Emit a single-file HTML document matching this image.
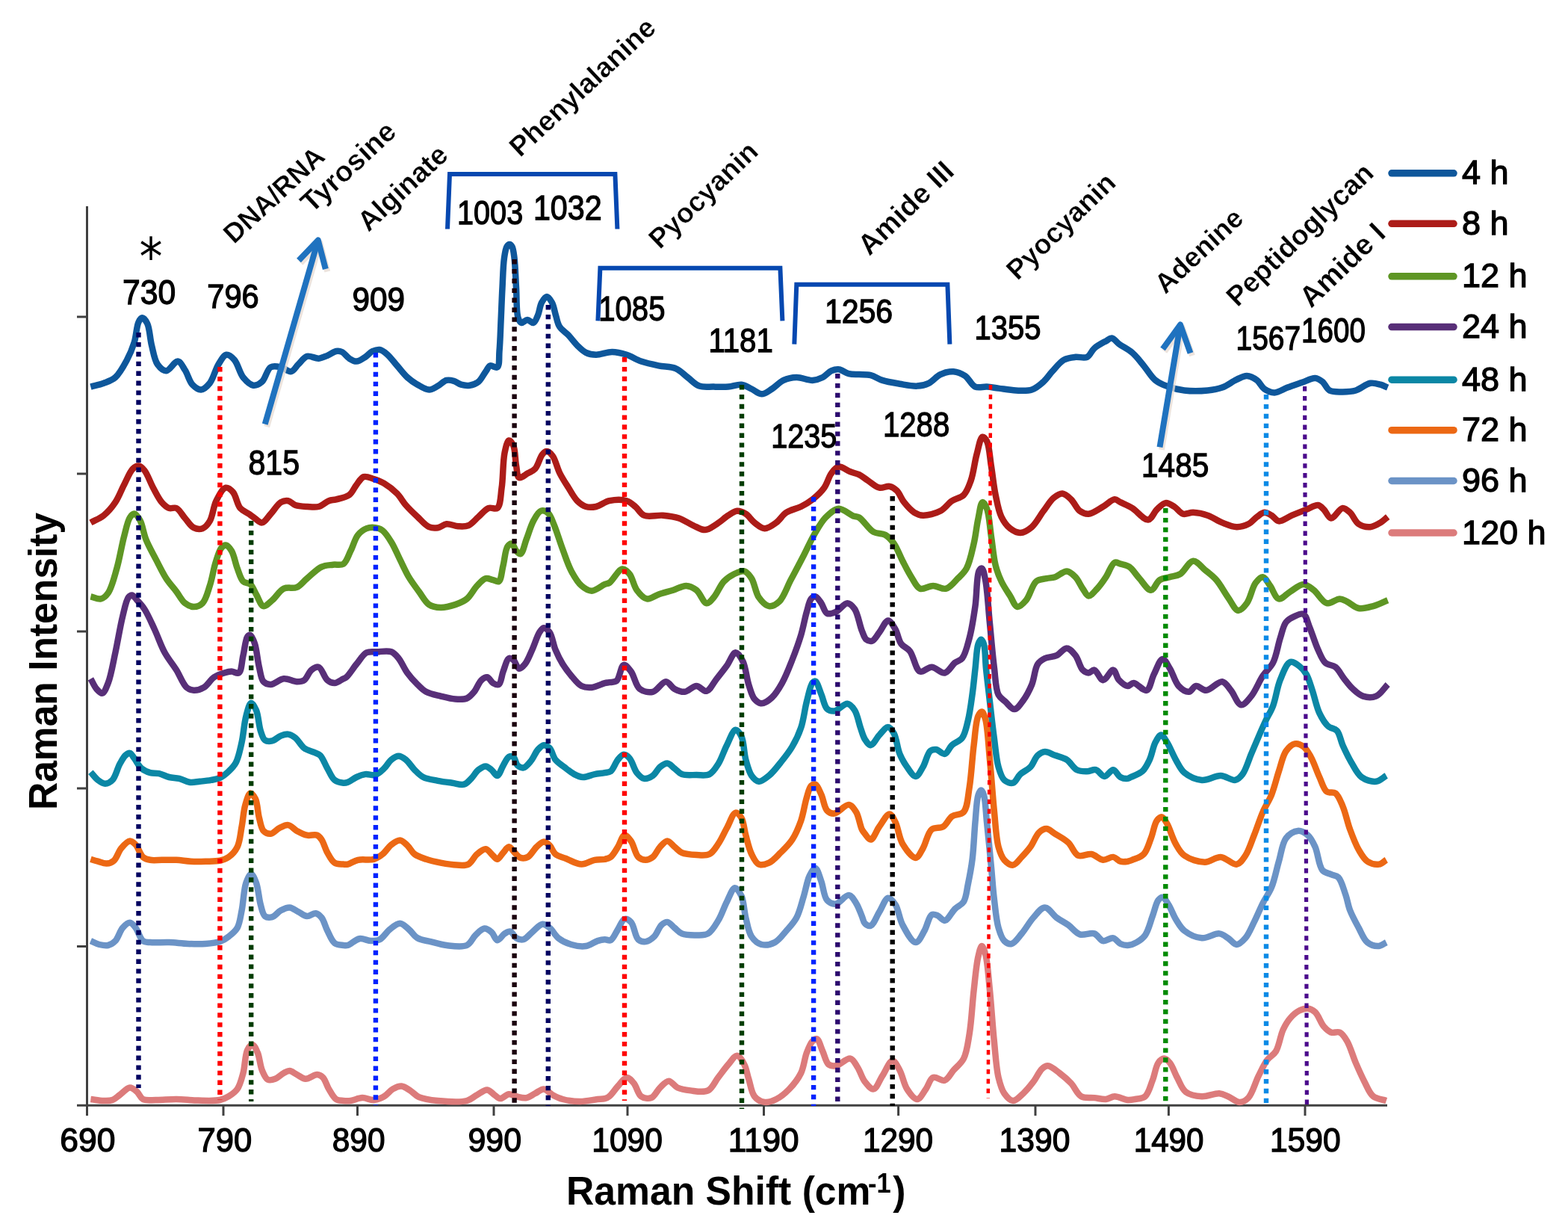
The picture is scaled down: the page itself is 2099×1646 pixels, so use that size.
<!DOCTYPE html><html><head><meta charset="utf-8"><style>html,body{margin:0;padding:0;background:#fff;}svg{display:block;}text{font-family:"Liberation Sans",sans-serif;}</style></head><body>
<svg width="2099" height="1646" viewBox="0 0 2099 1646">
<rect width="2099" height="1646" fill="#fff"/>
<g stroke="#404040" stroke-width="3" fill="none">
<path d="M116.5,276 V1479.2"/>
<path d="M103,1479.2 H1857"/>
<path d="M103,424 H116.5"/>
<path d="M103,634 H116.5"/>
<path d="M103,845 H116.5"/>
<path d="M103,1055 H116.5"/>
<path d="M103,1266.5 H116.5"/>
<path d="M116.5,1479.2 V1493"/>
<path d="M299,1479.2 V1493"/>
<path d="M478.5,1479.2 V1493"/>
<path d="M661,1479.2 V1493"/>
<path d="M840,1479.2 V1493"/>
<path d="M1022.5,1479.2 V1493"/>
<path d="M1202.6,1479.2 V1493"/>
<path d="M1386,1479.2 V1493"/>
<path d="M1564.4,1479.2 V1493"/>
<path d="M1747,1479.2 V1493"/>
</g>
<g fill="none" stroke-width="8.5" stroke-linejoin="round" stroke-linecap="butt">
<path stroke="#0e579b" d="M121.4,517.6 C127.2,516 133.3,514.8 138.9,512.7 C144.3,510.6 149.7,509.1 154.4,505 C160.4,499.7 165.7,489.6 170,481.6 C174.1,474 177.1,466.5 179.7,458.3 C182.4,449.7 182.8,436.5 185.5,431 C186.9,428.1 188.6,425.3 190.4,425.3 C192.5,425.3 195.4,429.3 197.2,433 C200.3,439.3 200.7,452.7 203,462 C205.2,470.8 206.7,481.6 210.8,487.5 C213.9,491.8 218.4,496.3 222.5,496.2 C227.3,496.1 233.6,483.2 238,483.6 C241.8,484 244.7,490.7 247.7,495.3 C251.3,500.8 253.3,510.2 257.5,514.7 C260.8,518.2 265.3,521.7 269.1,521.5 C273.1,521.3 277.3,517 280.8,512.7 C285.6,506.8 288.2,494.3 292.5,487.5 C295.8,482.3 299.3,475.4 303.1,474.8 C306.4,474.3 310.6,478 313.8,481.6 C318.4,486.7 320.7,499.1 325.5,505 C329.4,509.8 334.6,515.1 339.1,515.7 C343,516.2 347.3,513.8 350.8,510.8 C355.4,506.8 357.4,494.2 362.4,491.4 C366.3,489.2 371.5,490.5 376,491.4 C380.7,492.3 385.7,498 389.7,497.2 C393.5,496.5 396,490.8 399.4,487.5 C403.1,484 406.5,478.1 411,476.8 C415.5,475.5 421.8,480 426.6,479.7 C430.8,479.4 434.5,477.4 438.3,475.8 C442.3,474.2 446.4,470.6 450,470 C452.8,469.5 455.2,469.8 457.8,471 C461.1,472.5 464.1,477.6 467.5,479.7 C470.6,481.6 473.8,483.7 477.2,483.6 C480.9,483.5 485.3,480.1 488.9,477.8 C492.4,475.6 495.2,471.6 498.6,470 C501.7,468.6 505.2,467.5 508.3,468 C511.7,468.6 514.7,471.1 518,473.9 C522.4,477.6 527.1,484.2 531.6,489.4 C536.2,494.6 540.5,500.6 545.3,505 C549.6,508.9 554.1,512 558.9,514.7 C563.8,517.5 569.6,521.5 574.4,521.5 C578.6,521.5 582.3,518.6 586.1,516.6 C590.1,514.5 593.8,509.9 597.7,508.9 C601,508.1 604.3,508.9 607.5,509.8 C610.8,510.8 613.7,513.7 617.2,514.7 C620.8,515.7 625,516.3 628.8,515.7 C632.8,515.1 637.1,513.5 640.5,510.8 C644.4,507.7 647.3,501.1 650.2,497.2 C652.4,494.2 653.5,490.4 656.1,489.4 C658.7,488.4 663.6,493 665.8,491.4 C669,489.1 667.8,478.3 668.5,470 C669.5,458.8 669.9,443.7 670.5,430 C671.2,415.4 671.7,399.6 672.5,385 C673.2,371.3 673.5,355.1 675,345 C675.9,338.8 676.7,332.9 678.5,330 C679.5,328.4 680.8,327 682,327 C683.2,327 684.6,328.4 685.5,330 C687.2,332.9 687.7,338.8 688.5,345 C689.8,355.1 690.2,371.7 691,385 C691.8,398.3 691,417.3 693.5,425 C694.6,428.5 696,431.4 698,432 C700.1,432.6 703.3,428 706,428 C708.7,428 711.8,432.7 714,432 C716.6,431.3 718.3,425.9 720,422 C722.1,417.2 722.6,409.4 725,405 C726.9,401.6 729.7,397 732,397 C734.3,397 737.1,401.6 739,405 C741.4,409.4 742.3,416.5 744,422 C745.6,427.2 746.2,432.6 749,437 C751.8,441.5 757.1,444.5 761,448.6 C765,452.9 768.6,458.2 772.7,462.2 C776.5,465.9 780.1,469.8 784.4,471.9 C788.5,473.9 792.9,474.7 798,474.8 C804.3,474.9 812.4,470.9 819.4,471 C826.1,471.1 832.5,472.8 838.9,474.8 C845.5,476.9 851.4,481.2 858.3,483.6 C865.6,486.1 873.8,487.8 881.6,489.4 C889.4,491 898.3,490.4 905,493.3 C911.1,495.9 915.3,501.1 920.5,505 C925.7,508.9 930.3,514.5 936.1,516.6 C941.9,518.7 949,517.4 955.5,517.6 C962,517.8 968.7,518.1 975,517.6 C981,517.1 987.1,514.1 992.5,514.7 C997.4,515.3 1001.6,518.4 1006.1,520.5 C1010.7,522.6 1015.2,527.3 1019.7,527.3 C1024.2,527.3 1028.7,523.3 1033.3,520.5 C1038.4,517.3 1043.2,511.5 1048.8,508.9 C1054.2,506.4 1060.2,505.1 1066.3,505 C1073.1,504.9 1081.4,509.2 1087.7,508.9 C1092.8,508.6 1097.1,507.1 1101.3,505 C1105.6,502.9 1109.1,497.9 1113,496.2 C1116.2,494.8 1119.3,493.9 1122.7,494.3 C1126.9,494.7 1131.7,499 1136.3,500.1 C1140.8,501.2 1145.3,500.8 1150,501.1 C1155,501.4 1160.5,500.9 1165.6,502.1 C1170.9,503.4 1175.3,507.1 1181.1,508.9 C1188,511.1 1196.6,512.4 1204.4,513.7 C1212.2,515 1220.8,517 1227.8,516.6 C1233.5,516.3 1238.4,515.1 1243.3,512.8 C1248.8,510.2 1253.2,503.7 1258.9,501.1 C1264.3,498.6 1270.8,496.8 1276.4,497.2 C1281.8,497.6 1287.2,499.9 1291.9,503 C1297,506.4 1300.3,515.3 1305.5,517.6 C1310.1,519.6 1315.9,517.3 1321.1,517.6 C1326.3,517.9 1330.9,518.9 1336.6,519.6 C1343.6,520.5 1352.4,522.2 1360,522.5 C1367.3,522.8 1375,523.6 1381.3,521.5 C1387.2,519.5 1392.3,514.9 1396.9,510.8 C1401.4,506.8 1404.2,501.8 1408.5,497.2 C1413.2,492.1 1418.4,484.8 1424.1,481.6 C1428.9,478.9 1434.5,478.4 1439.7,477.8 C1444.8,477.2 1451,479.8 1455.2,477.8 C1459.4,475.8 1461,469.5 1464.9,466.1 C1469.2,462.3 1476.1,458.8 1480.5,456.4 C1483.5,454.7 1485.7,452.2 1488.3,452.5 C1491.5,452.8 1494.2,457.5 1498,460.3 C1502.9,463.9 1510.2,467.2 1515.6,471.9 C1521.3,476.8 1526,483.3 1531.1,489.4 C1536.4,495.7 1540.8,504.1 1546.7,508.9 C1552,513.1 1557.9,515.4 1564.2,517.6 C1570.8,520 1577.7,521.6 1585.5,522.5 C1594.8,523.6 1607.5,523.4 1616.6,522.5 C1623.9,521.8 1629.8,520.9 1636.1,518.6 C1642.8,516.2 1649.5,510.6 1655.5,507.9 C1660.3,505.7 1664.6,502.9 1669.1,503 C1673.7,503.1 1678.8,506 1682.7,508.9 C1686.6,511.8 1688.5,517.7 1692.5,520.5 C1696.4,523.2 1701.3,525.5 1706.1,525.4 C1711.6,525.3 1717.6,520.8 1723.6,518.6 C1729.9,516.3 1736.7,514 1743,511.8 C1749,509.8 1755.6,505.7 1760.5,506 C1764.3,506.3 1767.2,508.4 1770.2,510.8 C1773.8,513.6 1775.6,520.2 1779.9,522.5 C1784.5,525 1791.6,524.4 1797.4,524.4 C1803.2,524.4 1809.1,524.2 1814.9,522.5 C1821.4,520.6 1828.3,513.8 1834.4,512.8 C1839.2,512 1843.9,513.6 1848,514.7 C1851.6,515.7 1854.5,517.3 1857.7,518.6"/>
<path stroke="#ac1c18" d="M121.4,699.4 C127.2,696.2 133.6,694 138.9,689.7 C144.7,685.1 150,678.8 154.4,672.2 C159.1,665.2 162.1,656.4 166.1,648.8 C169.9,641.5 173.6,631.4 177.8,627.4 C180.3,625 183,623.4 185.5,623.6 C188.2,623.8 190.8,626.4 193.3,629.4 C197.4,634.3 201,645.3 205,652.7 C208.8,659.6 212.4,667.4 216.6,672.2 C219.7,675.8 222.9,678.8 226.4,680 C229.5,681.1 233,678.6 236.1,680 C240.3,681.9 243.8,689.1 247.7,693.5 C251.6,697.8 255,704.1 259.4,706.2 C263,708 267.6,708.5 271.1,707.2 C274.8,705.8 278.1,701.9 280.8,697.4 C284.7,690.9 285.5,678 289.5,670.2 C292.9,663.4 297.8,653.6 302.2,652.7 C305.4,652.1 309.1,655.4 311.9,658.6 C316,663.2 317.3,675 321.6,680 C324.9,683.8 329.8,685.3 333.3,687.7 C336.2,689.7 338.3,691.6 341.1,693.5 C344.1,695.5 347.6,699.8 350.8,699.4 C354.7,698.9 358.4,691.9 362.4,687.7 C366.8,683 371.4,674.9 376,672.2 C379.2,670.3 382.6,669.7 385.8,670.2 C389.2,670.8 391.7,674.7 395.5,676 C399.9,677.5 405.8,677.7 411,678 C416.2,678.3 421.7,679.3 426.6,678 C431.5,676.7 435.9,671.8 440.2,670.2 C443.6,668.9 446.3,669.3 450,668.3 C455,667 462.9,665.8 467.5,662.4 C471.9,659.2 473.8,653 477.2,648.8 C480.3,644.9 483,639.4 486.9,638.1 C490.8,636.9 496,639.6 500.5,641 C505.1,642.5 509.5,644.1 514.2,646.9 C519.9,650.3 526.6,655.5 531.6,660.5 C536.2,665.2 538.9,671 543.3,676 C548,681.4 553.6,686.7 558.9,691.6 C564,696.4 569.2,703 574.4,705.2 C578.3,706.9 582.3,706.8 586.1,706.2 C590.1,705.6 593.5,701.8 597.7,701.3 C602.4,700.8 608.3,703.9 613.3,704.2 C618,704.5 622.6,705 626.9,703.3 C631.8,701.3 636,695.5 640.5,691.6 C645,687.7 649.4,681.6 654.1,679.9 C657.9,678.5 662.9,682.2 665.8,679.9 C670.2,676.3 670.1,663 671.6,652.7 C673.6,639.3 673.1,617.6 675.5,606.1 C677,599 678.9,590 681.3,589.5 C683,589.2 685.7,593 687.2,596.3 C689.9,602.1 689.6,615.8 691.1,623.6 C692.2,629.5 692,637.8 694.9,639.1 C697.5,640.3 702.9,635.3 706.6,633.3 C710,631.4 713.4,630.5 716.3,627.4 C720.3,623.1 722.7,611.8 726.1,608 C728,605.8 729.8,604 731.9,604.1 C734.3,604.2 737.3,606.9 739.7,610 C743.5,614.9 745.7,626 749.4,633.3 C752.9,640.2 757,646.4 761,652.7 C764.8,658.7 768.3,665.8 772.7,670.2 C776.3,673.8 780.1,676.7 784.4,678 C788.6,679.3 793.3,679 798,678 C803.6,676.8 809.2,671.6 815.6,670.2 C822.7,668.7 832.7,668.3 838.9,670.2 C843.7,671.7 846.8,674.9 850.5,678 C854.6,681.3 857,687.5 862.2,689.7 C868.6,692.4 879.4,689 887.5,689.7 C895,690.4 902.1,691.2 908.9,693.5 C915.7,695.8 922.1,700.6 928.3,703.3 C933.7,705.7 938.8,709.4 943.9,709.1 C949.1,708.8 954.4,704.4 959.4,701.3 C964.7,698 970.1,692.8 975,689.7 C979,687.2 982.7,684.1 986.6,683.8 C990.4,683.5 994.6,685.4 998.3,687.7 C1002.5,690.3 1005.7,696.1 1010,699.4 C1014.2,702.6 1018.9,707.1 1023.6,707.2 C1028.6,707.3 1034.4,702.8 1039.1,699.4 C1044.1,695.8 1047.3,689.3 1052.7,685.8 C1058.3,682.1 1066.2,681 1072.2,678 C1077.8,675.2 1082.7,672.2 1087.7,668.3 C1093.1,664 1099.1,658.6 1103.3,652.7 C1107.5,646.9 1109.2,638.3 1113,633.3 C1115.9,629.5 1118.8,625.1 1122.7,624.5 C1127.1,623.8 1133.4,629.4 1138.3,631.3 C1142.4,632.9 1146.2,633.4 1150,635.2 C1154,637.2 1157.5,640.3 1161.7,643 C1166.5,646.1 1172,651.6 1177.2,652.7 C1181.7,653.7 1186.8,650 1190.8,650.8 C1194.5,651.5 1197.6,653.7 1200.5,656.6 C1204.2,660.3 1206.5,667.4 1210.3,672.2 C1214.2,677.1 1219.2,682.9 1223.9,685.8 C1227.7,688.1 1230.9,689.5 1235.5,689.7 C1241.9,689.9 1252.2,687.3 1258.9,683.8 C1265,680.6 1269,673.8 1274.4,670.2 C1279.4,666.8 1285.9,666.5 1290,662.4 C1294.6,657.8 1297,650.6 1299.7,643 C1303.2,633.2 1304.6,618.4 1307.5,608 C1309.9,599.4 1312.1,585.4 1315.2,584.7 C1317,584.3 1319.5,587.4 1321.1,590.5 C1324.4,596.8 1325,612.1 1326.9,623.6 C1328.9,636 1330.2,650.4 1332.7,662.4 C1334.9,672.9 1336.6,683.7 1340.5,691.6 C1343.6,698 1347.6,703.6 1352.2,707.2 C1356.2,710.3 1361.2,713.1 1365.8,713 C1370.8,712.8 1376.6,709.2 1381.3,705.2 C1387.2,700.2 1391.8,690.5 1396.9,683.8 C1401.5,677.6 1405.7,670.3 1410.5,666.3 C1414.2,663.3 1418.4,660.2 1422.2,660.5 C1426.2,660.8 1430.2,664.9 1433.8,668.3 C1438.1,672.3 1441.1,680.6 1445.5,683.8 C1449,686.3 1452.8,688 1457.1,687.7 C1462.8,687.3 1470.5,681.4 1476.6,678 C1482.1,674.9 1487.7,668.5 1492.1,668.3 C1495.1,668.1 1496.9,670.7 1500,672.2 C1504.3,674.3 1510.1,676.6 1515.6,679.9 C1522.3,684 1531.1,696.2 1536.9,695.5 C1541.7,695 1544.5,685.8 1548.6,681.9 C1552.3,678.4 1556.3,673.6 1560.3,673.1 C1564,672.6 1568.2,675.7 1571.9,678 C1576,680.5 1579.3,686.5 1583.6,687.7 C1587.7,688.9 1592.3,685.7 1597.2,685.8 C1603.1,686 1610.3,687.5 1616.6,689.7 C1623.2,692 1629.5,696.8 1636.1,699.4 C1642.5,701.9 1649.4,705.1 1655.5,705.2 C1661,705.3 1666.5,703.6 1671.1,701.3 C1675.5,699 1678.9,694.3 1682.7,691.6 C1686,689.3 1689.2,686.1 1692.5,685.8 C1695.7,685.6 1699.1,687.9 1702.2,689.7 C1705.6,691.7 1708,696.9 1711.9,697.4 C1716.7,698 1723.4,692.2 1729.4,689.7 C1735.7,687.1 1742.7,684.3 1748.8,681.9 C1754.3,679.8 1760.2,675.4 1764.4,676 C1767.6,676.5 1769.6,679.4 1772.2,681.9 C1775.4,685 1778.1,693.2 1781.9,693.5 C1786.3,693.8 1792.7,680.3 1797.4,679.9 C1800.9,679.6 1804.1,683 1807.2,685.8 C1811.3,689.5 1814,698.1 1818.8,701.3 C1823.2,704.2 1829.4,705.6 1834.4,705.2 C1839.2,704.8 1844,701.8 1848,699.4 C1851.7,697.2 1854.5,694.2 1857.7,691.6"/>
<path stroke="#5e9624" d="M121.4,798.4 C125.9,799.4 131,802.3 135,801.4 C138.7,800.5 141.8,797.7 144.7,793.6 C149.6,786.7 153,772.3 156.4,760.5 C160.2,747.3 162.8,730.1 166.1,717.8 C168.7,708.2 170.6,697.4 173.9,692.5 C175.6,689.9 177.7,687.5 179.7,687.6 C182.2,687.8 185.2,692.4 187.5,696.4 C190.9,702.4 191.9,713.2 195.3,721.6 C198.9,730.7 204.3,740 208.9,748.9 C213.4,757.5 217.6,766.6 222.5,774.1 C226.8,780.7 231.8,785.9 236.1,791.6 C240.1,796.9 243.3,803.8 247.7,807.2 C251.3,810 255.5,812 259.4,812 C263.3,812 267.9,810.4 271.1,807.2 C275.7,802.7 278,792.3 280.8,783.9 C284,774.4 285.7,761.9 288.6,752.8 C291,745.5 293.2,737.1 296.3,733.3 C298.1,731.1 300.2,729.2 302.2,729.4 C304.7,729.7 307.8,733.6 310,737.2 C313.4,742.6 314.9,753.4 317.7,760.5 C320.1,766.8 321.9,774.5 325.5,778 C328.2,780.6 332.5,779.5 335.2,781.9 C338.5,784.8 340.2,790.8 343,795.5 C346,800.5 348.8,810.3 352.7,811.1 C356.1,811.8 360.4,806.6 364.4,803.3 C369.4,799.2 374,790.5 379.9,787.7 C385.2,785.2 392.2,788 397.4,785.8 C402.6,783.5 406,778.2 411,774.1 C416.9,769.2 424,761.6 430.5,758.6 C435.7,756.2 441,756.4 446,755.7 C450.7,755.1 456,757.1 459.7,754.7 C464.2,751.8 466.3,743.4 469.4,737.2 C472.8,730.5 475,721 479.2,715.8 C482.5,711.7 486.7,708.7 490.8,707.1 C494.5,705.7 498.8,705.6 502.5,706.1 C506,706.6 509.1,707.6 512.2,710 C516.4,713.2 520.3,719.6 523.9,725.5 C528.1,732.3 531.6,741.1 535.5,748.9 C539.4,756.7 542.9,764.9 547.2,772.2 C551.3,779.1 556.2,785.4 560.8,791.6 C565.3,797.6 569,805.6 574.4,809.1 C579,812.1 584.5,812.9 590,813 C596.1,813.1 603.4,811.1 609.4,809.1 C615,807.2 620.4,805.2 625,801.4 C630.2,797.1 634,788.7 638.6,783.9 C642.4,779.9 646.2,775.1 650.2,774.1 C653.4,773.3 656.9,775.4 660,776.1 C662.7,776.7 665.7,779.2 667.7,778 C671.1,776 671.7,764 673.6,756.6 C675.6,748.6 676.3,735.9 679.4,731.4 C681,729.1 683.4,727.1 685.2,727.5 C687.4,728 688.9,734.9 691.1,737.2 C692.9,739 695.1,741.6 696.9,741.1 C700,740.2 702,728.5 704.7,721.6 C707.8,713.7 710.6,703.2 714.4,696.4 C717.3,691.2 720.4,684.9 724.1,683.7 C727,682.8 731.1,684.4 733.8,686.7 C737.3,689.7 738.9,696 741.6,702.2 C745.4,711.1 749.3,724.7 753.3,735.3 C757.1,745.4 760.3,755.9 764.9,764.4 C768.9,771.8 773.3,779.4 778.5,783.9 C782.6,787.5 787.3,790.7 792.1,790.7 C797.6,790.7 805.2,783.7 809.6,781.9 C812.1,780.9 813.3,781.4 815.6,780 C820.2,777.1 827.8,762 833,761.5 C836.6,761.1 839.9,764.9 842.8,768.3 C846.8,773.1 848.2,784 852.5,789.7 C856.2,794.7 861.1,800.5 866.1,801.4 C870.9,802.2 876.1,797.4 881.6,795.5 C887.7,793.4 894.8,791.7 901.1,789.7 C907.1,787.8 913.2,783.7 918.6,783.9 C923.5,784.1 928,786.5 932.2,789.7 C937.3,793.6 941.4,806.7 945.8,807.2 C949.1,807.6 952.3,803 955.5,799.4 C960.1,794.3 964,783.4 969.1,778 C973.3,773.6 978,770.6 982.7,768.3 C987.1,766.2 992.4,763.4 996.3,764.4 C1000.2,765.4 1003.2,769.7 1006.1,774.1 C1010.1,780.3 1011.3,793 1015.8,799.4 C1019.5,804.6 1024.6,810.4 1029.4,811.1 C1033.7,811.8 1038.9,809 1043,805.2 C1049.1,799.6 1053.3,786.1 1058.6,776.1 C1064.3,765.4 1070.6,753.5 1076,743 C1080.9,733.5 1084.7,724.4 1089.7,715.8 C1094.5,707.6 1099.2,698.5 1105.2,692.5 C1110.4,687.3 1116.6,681.2 1122.7,680.8 C1128.9,680.4 1137,688.6 1142.1,690.5 C1145.2,691.7 1147.1,690.8 1150,692.5 C1155.4,695.6 1162.7,708.1 1169.4,711.9 C1174.5,714.8 1180.5,713.2 1185,715.8 C1189.6,718.4 1193.2,722.6 1196.7,727.5 C1201.1,733.7 1204.4,743.2 1208.3,750.8 C1212.1,758.1 1215.9,765.8 1220,772.2 C1223.7,777.9 1226.6,785.8 1231.6,787.7 C1236.4,789.5 1243.3,783.9 1249.1,783.9 C1254.9,783.9 1261.2,789.1 1266.6,787.7 C1272.4,786.2 1277.5,778.8 1282.2,774.1 C1286.6,769.7 1290.7,766.5 1293.9,760.5 C1298.4,752.2 1301,738.6 1303.6,727.5 C1306.2,716.5 1307.2,704.3 1309.4,694.4 C1311.2,686.2 1312.7,672.5 1315.2,672.1 C1316.9,671.8 1319.5,676.6 1321.1,680.8 C1324.2,688.6 1325,705.3 1326.9,717.8 C1328.9,730.6 1329.9,745.7 1332.7,756.6 C1334.8,764.9 1337.2,771.2 1340.5,778 C1343.7,784.8 1348.4,791.5 1352.2,797.5 C1355.5,802.7 1358.1,811.3 1361.9,812 C1365.3,812.6 1370,807.5 1373.6,803.3 C1378.7,797.4 1381.5,782.6 1387.2,778 C1391.2,774.8 1396.4,775.1 1400.8,774.1 C1404.8,773.2 1408.4,773.5 1412.4,772.2 C1417.3,770.6 1423.3,764.1 1428,764.4 C1432.3,764.7 1436.3,768.7 1439.7,772.2 C1443.6,776.2 1446.2,783.2 1449.4,787.7 C1452,791.4 1454.2,797.2 1457.2,797.5 C1460.5,797.8 1465.1,791.6 1468.8,787.7 C1473,783.3 1476.8,777.8 1480.5,772.2 C1484.5,766.2 1487.9,754.6 1492.1,752.8 C1494.6,751.7 1497.1,753.9 1500,754.7 C1503.5,755.7 1508,756.1 1511.7,758.6 C1516.5,761.8 1520.5,769 1525.3,774.1 C1530.2,779.4 1536.1,789.9 1540.8,789.7 C1545.1,789.5 1548,779 1552.5,776.1 C1556.5,773.5 1561.6,773.5 1566.1,772.2 C1570.6,770.9 1575.2,770.9 1579.7,768.3 C1585.6,764.8 1591.4,751.2 1597.2,750.8 C1602.4,750.4 1607.7,758.3 1612.8,762.5 C1618.1,766.8 1623.5,770.6 1628.3,776.1 C1633.9,782.5 1638.8,792.3 1643.9,799.4 C1648.5,805.7 1652.9,816.4 1657.5,816.9 C1661.3,817.3 1665.7,811.8 1669.1,807.2 C1673.9,800.8 1676.2,786 1680.8,780 C1683.8,776.1 1687.4,771.9 1690.5,772.2 C1693.9,772.5 1696.9,779.5 1700.2,783.9 C1704,789.1 1707.2,800.4 1711.9,801.4 C1716.3,802.3 1722,794.8 1727.4,791.6 C1733,788.3 1739.4,781.9 1744.9,781.9 C1749.8,781.9 1754,786.2 1758.6,789.7 C1764.4,794.1 1769.8,805.7 1776.1,807.2 C1781.5,808.5 1788.5,801.3 1793.5,801.4 C1797.3,801.5 1799.7,803.5 1803.3,805.2 C1808,807.4 1813.1,812.9 1818.8,814 C1824.8,815.1 1831.9,812.8 1838.3,811.1 C1844.9,809.3 1851.2,805.9 1857.7,803.3"/>
<path stroke="#582f78" d="M121.4,908.3 C124,912.8 126.2,918.5 129.2,921.9 C131.5,924.5 134.6,928.2 136.9,927.7 C139.9,927.1 142.3,920.1 144.7,914.1 C148.6,904.3 151.3,887.5 154.4,873.3 C157.8,857.8 160.8,838.2 164.2,824.7 C166.7,814.8 168.7,803.5 171.9,799.4 C173.4,797.5 175.1,796.3 176.8,796.5 C179,796.8 181.2,800.7 183.6,803.3 C186.6,806.6 190.1,810.1 193.3,815 C197.9,822 202.5,832.8 206.9,842.2 C211.6,852.2 215.3,863.9 220.5,873.3 C225.2,881.9 231.2,888.8 236.1,896.6 C240.9,904.3 244.8,915.6 249.7,919.9 C252.8,922.6 255.9,923.6 259.4,923.8 C263.5,924 268.8,922.4 273,919.9 C277.9,917 281.7,909.6 286.6,906.3 C290.9,903.4 296,901.8 300.2,900.5 C303.7,899.4 306.7,898.6 310,898.6 C313.2,898.6 317.2,902.1 319.7,900.5 C323.5,898.1 323.6,885.1 325.5,877.2 C327.5,868.9 328.5,855.4 331.3,851.9 C332.5,850.4 334,849.6 335.2,850 C337.3,850.7 339.4,856.6 341.1,861.6 C343.7,869.3 344.7,883.6 346.9,892.7 C348.7,900 349.3,908.5 352.7,912.2 C355.2,914.9 358.7,916.1 362.4,916 C367.4,915.9 374,908.9 379.9,908.3 C385.6,907.7 392.4,912.2 397.4,912.2 C401.1,912.2 404.3,912.1 407.2,910.2 C411,907.7 413.2,899.5 416.9,896.6 C419.8,894.3 423.6,891.8 426.6,892.7 C430.9,894 434,906.7 438.3,910.2 C441.3,912.7 444.7,914.2 448,914.1 C451.7,913.9 456.7,909.7 459.6,908.3 C461.3,907.5 462,907.6 463.6,906.3 C467.1,903.5 472.6,894.4 477.2,888.8 C481.7,883.4 485.7,875.8 490.8,873.3 C495,871.2 499.5,872.5 504.4,872.3 C510.3,872.1 518.8,870.3 523.9,872.3 C528.1,873.9 530.5,877.2 533.6,881 C537.7,886 541,894.6 545.3,900.5 C549.4,906.2 554.4,911.6 558.9,916 C562.8,919.8 565.8,923.3 570.5,925.8 C575.9,928.7 583.5,930 590,931.6 C596.4,933.2 603.3,935.1 609.4,935.5 C614.9,935.9 620.7,936.3 625,934.5 C629,932.8 631.7,929.4 634.7,925.8 C638.3,921.6 640.8,913.4 644.4,910.2 C646.8,908 649.7,905.9 652.2,906.3 C655,906.7 657.2,912.5 660,914.1 C662.4,915.5 665.6,917.1 667.7,916 C670.8,914.3 671.4,904.4 673.6,898.6 C675.9,892.7 678.2,882.4 681.3,881 C683.1,880.2 685.3,881.6 687.2,883 C690,885.2 692,894.2 694.9,894.7 C697.3,895.1 700.3,891.7 702.7,888.8 C706.3,884.4 709.3,876.2 712.4,869.4 C715.8,862 718.9,851.1 722.2,846.1 C724.1,843.2 725.8,840.4 728,840.2 C730.3,840 733.6,843 735.8,846.1 C739.3,851 740.5,862.1 743.5,869.4 C746.4,876.3 749.6,882.8 753.3,888.8 C756.8,894.4 760.7,899.5 764.9,904.4 C769.1,909.3 773.5,915.5 778.5,918 C782.7,920.1 787.3,920.3 792.1,919.9 C797.6,919.4 805.3,915.2 809.6,914.1 C812.1,913.5 813.4,913.5 815.6,913.1 C818.5,912.6 822.5,913.4 825.3,911.2 C829.6,907.8 831.1,890.6 835,889.8 C837.9,889.2 841.7,894.6 844.7,898.6 C849,904.2 850.8,917.5 856.4,921.9 C861.1,925.5 868.3,927 873.9,925.8 C880.1,924.4 886.2,912.1 891.4,912.2 C895.7,912.3 898.7,919.6 903,921.9 C907.1,924.1 912,926.2 916.6,925.8 C921.7,925.3 927.2,918 932.2,918 C936.9,918 941.6,925.7 945.8,924.8 C950.8,923.7 954.9,913.9 959.4,908.3 C964,902.6 968.7,896.7 973,890.8 C977.2,885 980.9,873.5 984.7,873.3 C988,873.1 991.8,879.8 994.4,885 C998.2,892.6 999.3,906.9 1002.2,916 C1004.6,923.3 1006.4,931.2 1010,935.5 C1012.7,938.6 1016.2,941.3 1019.7,941.3 C1023.8,941.3 1029.1,937.3 1033.3,933.5 C1038.4,928.8 1042.7,921.6 1046.9,914.1 C1051.9,905.2 1056.3,893.6 1060.5,883 C1064.8,872.2 1068.9,860.9 1072.2,850 C1075.3,839.5 1077.3,827.6 1079.9,818.8 C1081.9,812.1 1083,804.6 1085.8,801.4 C1087.4,799.5 1089.7,798 1091.6,798.4 C1094.2,798.9 1097,803.8 1099.4,807.2 C1102.2,811.1 1103.6,819.1 1107.2,820.8 C1110.3,822.3 1114.9,820.5 1118.8,818.8 C1123.9,816.6 1129.8,807.1 1134.4,807.2 C1138,807.3 1141.3,811 1144.1,815 C1148.5,821.3 1150.7,836.7 1153.8,844.1 C1155.8,849 1156.9,853.6 1159.6,855.8 C1161.7,857.5 1165,858.5 1167.5,857.7 C1170.9,856.6 1173.9,850.3 1177.2,846.1 C1181,841.3 1185.1,830.6 1188.9,830.5 C1192.2,830.4 1195.8,837.6 1198.6,842.2 C1201.8,847.6 1202.7,856.6 1206.4,861.6 C1209.5,865.9 1214.4,866.8 1218,871.3 C1223.1,877.8 1225.6,896.3 1231.6,898.6 C1236,900.3 1241.9,892.5 1247.2,892.7 C1252.9,892.9 1259.5,901.5 1264.7,900.5 C1269.9,899.5 1274,890.3 1278.3,886.9 C1281.6,884.3 1285.2,884.4 1288,881 C1292.4,875.6 1295,864 1297.7,853.8 C1301.1,841.3 1303.4,825.7 1305.5,811.1 C1307.7,795.9 1307.2,771.2 1310.4,764.4 C1311.5,762.1 1313.1,760.2 1314.3,760.5 C1316.3,761 1317.7,769.2 1319.1,776.1 C1321.8,789.3 1323,815 1325,834.4 C1326.9,853.8 1328.6,875.5 1330.8,892.7 C1332.6,906.5 1332.5,921.7 1336.6,929.7 C1339.1,934.5 1342.8,936.2 1346.3,939.4 C1349.9,942.7 1354.2,949.3 1358,949.1 C1362,948.9 1366.1,942.2 1369.7,937.4 C1374,931.6 1378.1,923.7 1381.3,916 C1384.7,907.6 1385.1,894.8 1389.1,888.8 C1391.7,884.8 1394.9,882.9 1398.8,881 C1403.2,878.8 1409.6,879.4 1414.4,877.2 C1419.3,874.9 1423.7,867.2 1428,867.4 C1432.1,867.5 1436.3,872.9 1439.7,877.2 C1443.7,882.3 1445.6,892.8 1449.4,896.6 C1451.8,899 1454.6,900.5 1457.2,900.5 C1459.8,900.5 1462.3,896.1 1464.9,896.6 C1468.7,897.4 1472.5,910 1476.6,910.2 C1480.9,910.4 1486.5,896.1 1490.2,896.6 C1493.5,897 1494.6,906.6 1498,910.2 C1501.2,913.6 1506,917.8 1509.6,918 C1512.4,918.2 1514.4,914 1517.5,914.1 C1522.2,914.2 1530.5,925.3 1535,923.8 C1539.8,922.2 1541.1,909.4 1544.7,902.4 C1548.3,895.4 1552.5,882.3 1556.4,882 C1559.6,881.8 1562.9,889.7 1566.1,894.7 C1570.1,901.1 1572.8,912.7 1577.8,918 C1581.7,922.1 1587.3,926.1 1591.4,925.8 C1595,925.5 1597.4,918.5 1601.1,918 C1605.1,917.4 1609.7,924 1614.7,923.8 C1621.1,923.5 1630.3,911.4 1636.1,912.2 C1640.9,912.9 1643.9,919.2 1647.7,923.8 C1652.3,929.3 1656.5,942.7 1661.4,943.3 C1665.7,943.8 1670.7,936.8 1675,931.6 C1680.6,924.8 1685.2,912.3 1690.5,904.4 C1694.9,897.7 1700.4,894.1 1704.1,886.9 C1708.7,878 1710.6,863.6 1713.8,853.8 C1716.4,845.9 1717.7,837.5 1721.6,832.5 C1724.7,828.6 1729.2,826.5 1733.3,824.7 C1737,823 1741.8,820.3 1744.9,821.8 C1748.7,823.6 1750,831.9 1752.7,838.3 C1756.4,847 1760.3,860.6 1764.4,869.4 C1767.5,876.2 1769.8,883 1774.1,886.9 C1777.8,890.3 1783.7,889.6 1787.7,892.7 C1792.3,896.3 1795.4,903.3 1799.4,908.3 C1803.2,913.1 1806.7,918 1811,921.9 C1815.1,925.7 1819.5,930 1824.6,931.6 C1829.8,933.3 1836.8,933.8 1842.1,931.6 C1848,929.2 1852.5,921.2 1857.7,916"/>
<path stroke="#0b87a5" d="M121.4,1033.2 C124.6,1036.8 127.6,1041.3 131.1,1043.9 C134.1,1046.2 137.6,1048.7 140.8,1048.7 C144,1048.7 147.7,1046.8 150.5,1043.9 C154.7,1039.6 157,1028.5 160.3,1022.5 C162.8,1017.9 165.3,1013.2 168,1010.8 C169.9,1009.1 172.1,1007.5 173.9,1007.9 C176,1008.3 177.6,1012 179.7,1014.7 C182.6,1018.4 185.5,1025 189.4,1028.3 C192.8,1031.2 197.1,1033 201.1,1034.1 C204.9,1035.2 208.8,1034.2 212.8,1035.1 C217.2,1036.1 221.8,1038.9 226.4,1040 C230.9,1041.1 235.5,1040.8 240,1041.9 C244.6,1043 249,1046.2 253.6,1046.8 C258.1,1047.4 262.5,1046.3 267.2,1045.8 C272.2,1045.3 277.9,1044.8 282.7,1043.9 C286.9,1043.1 290.7,1042.7 294.4,1040.9 C298.5,1038.9 302.6,1035.6 306.1,1032.2 C309.7,1028.8 313.1,1025.6 315.8,1020.5 C319.4,1013.6 321.4,1003 323.6,993.3 C326,982.4 326.8,967.9 329.4,958.3 C331.3,951.3 333.6,941.1 336.2,940.8 C338.3,940.6 341.1,946.2 343,950.5 C345.9,957.1 346.4,970.5 348.8,977.8 C350.5,982.9 351.7,988.3 354.7,990.4 C357.2,992.2 361.1,992.1 364.4,991.4 C368.2,990.6 372.2,986.1 376,984.6 C379.3,983.3 382.6,982.2 385.8,982.6 C389.1,983 392.4,985 395.5,987.5 C399.5,990.7 402.7,997.8 407.2,1001.1 C411.3,1004.1 416.9,1005.1 420.8,1006.9 C423.8,1008.3 426.1,1008.5 428.5,1010.8 C432.2,1014.3 435,1022.7 438.3,1028.3 C441.5,1033.7 443.9,1040.7 448,1043.9 C451.3,1046.5 456.3,1047.4 459.6,1047.7 C461.9,1047.9 463.4,1047.6 465.6,1046.8 C468.9,1045.6 473.2,1041.8 477.2,1040 C481,1038.3 484.8,1036.6 488.9,1036.1 C493.2,1035.5 498.3,1038.2 502.5,1037 C506.8,1035.7 510.7,1031.7 514.2,1028.3 C517.8,1024.9 520.3,1019.4 523.9,1016.6 C526.9,1014.2 530.4,1011.8 533.6,1011.8 C536.8,1011.8 540.2,1014.2 543.3,1016.6 C547.3,1019.7 550.9,1026.2 555,1030.2 C558.7,1033.9 561.9,1037.6 566.6,1040 C572,1042.8 579.6,1043.5 586.1,1044.8 C592.5,1046.1 599.4,1046.9 605.5,1047.7 C611,1048.5 616.7,1050.9 621.1,1049.7 C625,1048.6 627.7,1044.9 630.8,1041.9 C634.2,1038.5 636.9,1033 640.5,1030.2 C643.5,1027.8 647.2,1025.3 650.2,1025.4 C653,1025.5 655.5,1028.2 658,1030.2 C660.7,1032.4 663.4,1038.3 665.8,1038 C668.7,1037.6 670.9,1028.7 673.6,1024.4 C676.1,1020.3 678.5,1014.3 681.3,1012.8 C683.2,1011.8 685.5,1011.7 687.2,1012.8 C689.7,1014.4 690.3,1022 693,1024.4 C695.1,1026.3 698.2,1027.8 700.8,1027.3 C704,1026.7 707.5,1022.2 710.5,1018.6 C714.1,1014.4 716.8,1006.7 720.2,1003 C722.7,1000.3 725.3,997.4 728,997.2 C730.5,997 733.5,998.8 735.8,1001.1 C739,1004.3 740.1,1012.3 743.5,1016.6 C746.7,1020.6 751.1,1023.2 755.2,1026.4 C759.5,1029.7 764.3,1033.8 768.8,1036.1 C772.7,1038.1 776.3,1039.8 780.5,1040 C785.3,1040.2 791,1037.1 796,1036.1 C800.7,1035.2 805.7,1034.9 809.6,1034.1 C812.6,1033.5 815.1,1034 817.5,1032.2 C821.2,1029.6 823.8,1020.6 827.2,1016.6 C829.7,1013.6 832.3,1010 835,1009.8 C837.5,1009.6 840.4,1012 842.8,1014.7 C846.5,1018.8 848.7,1029.4 852.5,1034.1 C855.4,1037.7 858.6,1041.3 862.2,1041.9 C865.8,1042.5 870.5,1040.3 873.9,1038 C877.7,1035.4 880.1,1029.2 883.6,1026.4 C886.6,1024 890.1,1021.3 893.3,1021.5 C896.6,1021.7 899.8,1025.9 903,1028.3 C906.3,1030.8 908.7,1034.6 912.8,1036.1 C917.9,1038 925.9,1037 932.2,1037 C938.2,1037 944.9,1038.5 949.7,1036.1 C954.6,1033.7 957.9,1028 961.4,1022.5 C965.8,1015.6 968.9,1005.1 973,997.2 C976.7,989.9 980.9,977.2 984.7,976.8 C987.4,976.5 990.4,981.3 992.5,985.5 C995.9,992.4 995.8,1007.3 998.3,1016.6 C1000.5,1024.5 1002.5,1032.9 1006.1,1038 C1008.8,1041.7 1012.2,1045.5 1015.8,1045.8 C1019.9,1046.1 1025,1041.6 1029.4,1038 C1034.8,1033.6 1039.9,1026.8 1044.9,1020.5 C1050.3,1013.8 1056,1006.8 1060.5,999.1 C1065.1,991.3 1069.1,983.2 1072.2,973.9 C1075.8,963.4 1077.1,949.6 1079.9,938.9 C1082.3,929.7 1084.7,917.1 1087.7,913.6 C1088.9,912.2 1090.3,911.2 1091.6,911.7 C1094.3,912.7 1096.9,923.2 1099.4,929.2 C1102.1,935.5 1103.4,945.1 1107.2,948.6 C1109.8,951 1113.3,951.9 1116.9,951.5 C1122,951 1129.6,941.3 1134.4,941.8 C1138.3,942.2 1141.4,946.4 1144.1,950.5 C1147.8,956.1 1149.4,966.9 1151.9,973.9 C1153.9,979.6 1155.2,985.3 1157.8,989.4 C1160,992.7 1162.8,997.3 1165.6,997.2 C1169.2,997.1 1173.2,987.7 1177.2,983.6 C1181,979.7 1185.5,972.7 1188.9,972.9 C1191.8,973 1194.5,977.6 1196.7,981.6 C1200.2,987.9 1201.1,1001 1204.4,1008.9 C1207.2,1015.6 1210.5,1021.2 1214.2,1026.4 C1217.7,1031.2 1222.2,1039.2 1225.8,1039 C1229.3,1038.8 1232.5,1031.4 1235.5,1026.4 C1239.1,1020.4 1241.3,1008.3 1245.3,1005 C1247.6,1003.1 1250.2,1002.7 1253,1003 C1256.6,1003.4 1261.2,1009.6 1264.7,1008.9 C1268.4,1008.1 1270.6,1000.7 1274.4,997.2 C1278.3,993.5 1284.5,992.2 1288,987.5 C1292.2,981.8 1293.7,972.8 1295.8,964.2 C1298.4,953.8 1300,940.8 1301.6,929.2 C1303.2,917.8 1304.2,906.3 1305.5,895 C1306.8,883.9 1307.2,868.5 1309.5,862 C1310.6,859 1312,855.8 1313.3,855.8 C1314.5,855.8 1316,859 1317,862 C1319.1,868.5 1318.8,883.2 1320,895 C1321.4,908.6 1323.3,923.9 1325,938.9 C1326.8,954.7 1328.7,972.2 1330.8,987.5 C1332.6,1001.2 1333.6,1016.1 1336.6,1026.4 C1338.7,1033.6 1340.5,1040.4 1344.4,1043.9 C1347.5,1046.7 1352.7,1048.7 1356.1,1047.7 C1359.9,1046.6 1362,1039.6 1365.8,1036.1 C1369.8,1032.4 1375.6,1030.5 1379.4,1026.4 C1383.4,1022.1 1385.3,1014.2 1389.1,1010.8 C1392,1008.2 1395.2,1006.2 1398.8,1006 C1402.9,1005.8 1407.7,1009.1 1412.4,1010.8 C1417.4,1012.6 1423.3,1013.6 1428,1016.6 C1433.1,1019.9 1436.6,1027.7 1441.6,1030.2 C1445.8,1032.3 1450.8,1032.3 1455.2,1032.2 C1459.3,1032.2 1463.2,1029.3 1466.9,1030.2 C1471,1031.2 1474.6,1039 1478.5,1039 C1482.4,1039 1486.6,1029.9 1490.2,1030.2 C1493.7,1030.5 1496.3,1038.1 1499.9,1040 C1502.9,1041.6 1507.1,1042.2 1509.6,1041.9 C1511.3,1041.7 1511.8,1040.9 1513.6,1040 C1517.1,1038.3 1525,1036 1529.2,1032.2 C1533.5,1028.3 1536.1,1022.5 1538.9,1016.6 C1542.1,1009.8 1543.5,999.2 1546.7,993.3 C1549,989.1 1551.8,983.6 1554.4,983.6 C1557,983.6 1559.6,989.2 1562.2,993.3 C1566,999.2 1569.8,1009.5 1573.9,1016.6 C1577.6,1023 1580.1,1029.6 1585.5,1034.1 C1591.4,1039 1600.8,1043.2 1608.9,1043.9 C1617,1044.6 1626.3,1037.8 1634.1,1038 C1641,1038.2 1648.4,1044.9 1653.6,1043.9 C1657.6,1043.1 1660.3,1040 1663.3,1036.1 C1667.9,1030.1 1671.1,1018 1675,1008.9 C1678.9,999.8 1683.1,989.7 1686.6,981.6 C1689.4,975.1 1691.6,970.1 1694.4,964.2 C1697.4,957.9 1701.2,952.3 1704.1,944.7 C1707.9,934.9 1709.5,920 1713.8,909.7 C1717.5,900.7 1722.1,887.5 1727.4,885.9 C1731.2,884.7 1736.4,889.2 1740,892 C1743.5,894.7 1746.3,898.1 1748.8,902.4 C1752,907.9 1754,915.6 1756.6,923.3 C1759.8,932.6 1762.2,945.8 1766.3,954.4 C1769.6,961.3 1773.5,967.9 1778,971.9 C1781.5,975 1786.6,974.4 1789.7,977.8 C1793.6,982 1794.4,990.5 1797.4,997.2 C1800.8,1004.7 1804.8,1013.2 1809.1,1020.5 C1813.2,1027.4 1816.9,1035.8 1822.7,1040 C1828.1,1043.9 1836.3,1046.5 1842.1,1045.8 C1847.2,1045.2 1851.2,1040.6 1855.8,1038"/>
<path stroke="#ec6814" d="M121.4,1149.8 C124.6,1150.8 127.7,1151.8 131.1,1152.7 C134.8,1153.7 139.1,1155.9 142.8,1155.6 C146.2,1155.4 149.6,1154.2 152.5,1151.7 C156.4,1148.4 158.4,1139.7 162.2,1135.2 C165.6,1131.2 170.3,1125.7 173.9,1125.5 C176.7,1125.3 179.2,1127.9 181.6,1130.4 C185.1,1134 187.5,1143.6 191.4,1146.9 C194.3,1149.4 197.4,1150.1 201.1,1150.8 C205.6,1151.7 211.1,1150.8 216.6,1150.8 C222.7,1150.8 229.6,1150.5 236.1,1150.8 C242.6,1151.1 249,1152.4 255.5,1152.7 C262,1153 268.5,1152.9 275,1152.7 C281.5,1152.5 288.8,1152.9 294.4,1151.7 C298.9,1150.7 302.5,1149.5 306.1,1146.9 C310.4,1143.8 314.9,1139 317.7,1133.3 C321.3,1126.1 321.8,1115.4 323.6,1106.1 C325.4,1096.6 326,1085 328.4,1076.9 C330.2,1070.8 332.6,1061.8 335.2,1061.4 C337.2,1061.1 340.2,1065.5 342,1069.1 C344.8,1074.9 344.9,1086.8 346.9,1094.4 C348.6,1100.8 349.4,1108.4 352.7,1111.9 C355.2,1114.5 359.1,1116.1 362.4,1115.8 C366.2,1115.4 370.1,1110 374.1,1108 C377.9,1106.2 382,1103.6 385.8,1104.1 C389.8,1104.6 393.3,1109.7 397.4,1111.9 C401.7,1114.2 406.4,1116.8 411,1117.7 C415.4,1118.6 421.2,1116.3 424.6,1117.7 C427.3,1118.8 428.6,1120.9 430.5,1123.6 C433.3,1127.7 435.3,1135.8 438.3,1141.1 C441.1,1146.1 444,1152.2 448,1154.7 C451.3,1156.8 456.4,1156.3 459.6,1156.6 C461.9,1156.8 463.3,1157.1 465.6,1156.6 C469.3,1155.8 474,1152 479.2,1150.8 C485.4,1149.4 494.6,1151.5 500.5,1149.8 C505.2,1148.4 508.5,1146 512.2,1143 C516.4,1139.7 519.7,1133.6 523.9,1130.4 C527.5,1127.6 531.9,1124.3 535.5,1124.5 C539,1124.7 542.2,1128.5 545.3,1131.3 C548.8,1134.5 551,1140 555,1143 C559.3,1146.2 565,1147.9 570.5,1149.8 C576.5,1151.9 583.3,1153.4 590,1154.7 C596.9,1156 604.8,1157.4 611.4,1157.6 C617,1157.8 622.5,1158.8 626.9,1156.6 C631.7,1154.2 634.4,1146.5 638.6,1143 C642.2,1140 646.6,1135.8 650.2,1136.2 C653.7,1136.6 657.1,1142.5 660,1145 C662.2,1146.9 663.8,1149.9 665.8,1149.8 C668.3,1149.6 671,1143.9 673.6,1141.1 C676.1,1138.4 678.7,1133.3 681.3,1133.3 C683.9,1133.3 686.5,1138.6 689.1,1141.1 C691.7,1143.5 693.9,1147 696.9,1147.9 C699.8,1148.8 703.5,1148.5 706.6,1146.9 C710.8,1144.7 714.4,1136.9 718.3,1133.3 C721.5,1130.4 724.9,1126.6 728,1126.5 C730.7,1126.4 733.4,1129 735.8,1131.3 C738.7,1134.1 740,1140.1 743.5,1143 C747.1,1146 752.1,1146.8 757.2,1148.8 C763.5,1151.3 771.7,1156.5 778.5,1156.6 C784.6,1156.7 790.5,1151.9 796,1150.8 C800.8,1149.9 805.7,1150.6 809.6,1149.8 C812.6,1149.1 815,1148.8 817.5,1146.9 C821,1144.2 824.2,1138.1 827.2,1133.3 C830.3,1128.4 832.7,1118.2 836,1117.7 C838.7,1117.3 842.1,1121.9 844.7,1125.5 C848.4,1130.6 850.2,1142.9 854.4,1146.9 C857.2,1149.6 860.9,1150.8 864.2,1150.8 C867.4,1150.8 871,1149.2 873.9,1146.9 C877.6,1144 880.1,1137 883.6,1133.3 C886.6,1130.1 890.1,1125.5 893.3,1125.5 C896.5,1125.5 899.8,1130.7 903,1133.3 C906.3,1135.9 908.7,1139.3 912.8,1141.1 C917.9,1143.3 925.9,1143.7 932.2,1144 C938.2,1144.3 944.9,1145.4 949.7,1143 C954.6,1140.6 957.8,1134.7 961.4,1129.4 C965.6,1123.3 969.1,1115 973,1108 C976.9,1101.1 980.8,1088.3 984.7,1087.6 C987.3,1087.2 990.4,1091 992.5,1094.4 C995.7,1099.6 996.1,1109.8 998.3,1117.7 C1000.6,1126 1002.7,1136.1 1006.1,1143 C1008.8,1148.5 1011.6,1154.8 1015.8,1156.6 C1019.6,1158.2 1025,1156.7 1029.4,1154.7 C1034.8,1152.2 1039.9,1146.1 1044.9,1141.1 C1050.3,1135.8 1056.1,1130.3 1060.5,1123.6 C1065.3,1116.2 1069,1107.3 1072.2,1098.3 C1075.6,1088.6 1077.2,1075.7 1079.9,1067.2 C1081.8,1061 1083.1,1054.2 1085.8,1051.6 C1087.5,1050 1089.8,1049 1091.6,1049.7 C1094.5,1050.8 1097,1058.1 1099.4,1063.3 C1102.3,1069.5 1103.3,1080.7 1107.2,1084.7 C1109.8,1087.4 1113.2,1088.9 1116.9,1088.6 C1122.4,1088.2 1131.1,1076.3 1136.3,1076.9 C1140.3,1077.4 1143.3,1082.3 1146,1086.6 C1149.6,1092.4 1151.3,1104.9 1153.8,1110 C1155.2,1112.7 1156.1,1113.8 1157.8,1115.8 C1159.9,1118.3 1162.9,1123.9 1165.6,1123.6 C1169.3,1123.2 1173,1111.8 1177.2,1106.1 C1181.4,1100.4 1187,1089.4 1190.8,1089.5 C1193.8,1089.6 1196.2,1095.5 1198.6,1100.2 C1202.3,1107.3 1203.4,1121.2 1208.3,1129.4 C1212.8,1136.8 1220.9,1148.2 1225.8,1147.9 C1229.6,1147.7 1232.4,1140.4 1235.5,1135.2 C1239.6,1128.4 1241.6,1114.6 1247.2,1110 C1251.4,1106.5 1258.3,1108.9 1262.8,1106.1 C1267.5,1103.2 1269.8,1095.8 1274.4,1092.5 C1278.9,1089.3 1286.2,1090.9 1290,1086.6 C1295.4,1080.4 1295.6,1066.1 1297.7,1053.6 C1300.4,1037.4 1301.4,1014.2 1303.6,997.2 C1305.4,983 1306.2,965.3 1309.4,958.3 C1310.8,955.2 1312.8,952.3 1314.3,952.5 C1316.1,952.7 1317.7,957.5 1319.1,962.2 C1322.2,972.8 1323.1,997.4 1325,1016.6 C1327.1,1038 1328.7,1063.9 1330.8,1084.7 C1332.6,1102.3 1333.3,1121.3 1336.6,1133.3 C1338.7,1140.8 1340.7,1146.7 1344.4,1150.8 C1347.5,1154.3 1352.4,1158 1356.1,1157.6 C1360.1,1157.2 1363.9,1150.8 1367.7,1146.9 C1371.7,1142.7 1375.7,1138.4 1379.4,1133.3 C1383.6,1127.5 1386.7,1117.8 1391.1,1113.8 C1394.1,1111 1397.5,1108.9 1400.8,1109 C1404.5,1109.1 1408.2,1113.2 1412.4,1115.8 C1417.7,1119.1 1424.9,1122.7 1430,1127.5 C1435.3,1132.4 1437.9,1142.5 1443.5,1144.9 C1448.5,1147 1455.5,1142 1461,1143 C1466.5,1144 1471.5,1150.3 1476.6,1150.8 C1481.2,1151.2 1486.2,1146.4 1490.2,1146.9 C1493.8,1147.4 1496.5,1151.8 1499.9,1152.7 C1503,1153.6 1506.8,1153.1 1509.6,1152.7 C1511.9,1152.3 1513.2,1151.8 1515.6,1150.8 C1519.6,1149.2 1527,1147.2 1531.1,1143 C1535.8,1138.1 1537.9,1129 1540.8,1121.6 C1543.8,1114.1 1545.2,1102.9 1548.6,1098.3 C1550.6,1095.6 1553.3,1093.1 1555.4,1093.4 C1557.9,1093.8 1559.9,1098.3 1562.2,1102.2 C1566,1108.6 1569.5,1121.8 1573.9,1129.4 C1577.4,1135.5 1580,1141 1585.5,1144.9 C1592.2,1149.7 1604.3,1153.7 1612.8,1153.7 C1620.3,1153.7 1627.1,1146.5 1634.1,1146.9 C1641.3,1147.3 1649.7,1157.7 1655.5,1156.6 C1660.4,1155.7 1663.7,1150 1667.2,1144.9 C1671.8,1138 1675,1127.1 1678.8,1117.7 C1682.8,1107.7 1686.3,1096.1 1690.5,1086.6 C1694.2,1078.2 1698.8,1071.8 1702.2,1063.3 C1706,1053.8 1708.6,1042.2 1711.9,1032.2 C1715,1022.8 1717.1,1011.4 1721.6,1005 C1724.8,1000.4 1729.2,996.1 1733.3,995.3 C1737,994.6 1741.5,996.6 1744.9,999.1 C1748.9,1002 1751.6,1007.3 1754.7,1012.8 C1758.8,1020.1 1762.5,1031.8 1766.3,1040 C1769.6,1047.1 1771.7,1056.1 1776.1,1059.4 C1779.3,1061.8 1784.4,1059.1 1787.7,1061.4 C1791.9,1064.4 1794.5,1072 1797.4,1078.8 C1801.2,1087.5 1803.5,1100 1807.2,1110 C1810.7,1119.5 1814.4,1129.6 1818.8,1137.2 C1822.4,1143.3 1825.7,1149.5 1830.5,1152.7 C1834.9,1155.6 1841.5,1157.2 1846,1156.6 C1849.8,1156.1 1852.5,1152.7 1855.8,1150.8"/>
<path stroke="#6b93c6" d="M121.4,1259.1 C125.3,1260.7 129,1263 133,1264 C136.8,1264.9 141.1,1265.8 144.7,1265 C148.2,1264.2 151.5,1262.1 154.4,1259.1 C158.3,1255.1 160.4,1245.8 164.2,1241.6 C167.1,1238.4 170.9,1234.6 173.9,1234.8 C176.7,1235 179.1,1238.5 181.6,1241.6 C185.1,1245.9 187.3,1256.1 191.4,1259.1 C194.2,1261.2 197.1,1260.7 201.1,1261.1 C207.5,1261.8 218,1260.8 226.4,1261.1 C234.8,1261.4 243.3,1262.7 251.6,1263 C259.5,1263.3 267.6,1263.6 275,1263 C281.8,1262.5 288.9,1262 294.4,1260.1 C299,1258.5 302.4,1256.2 306.1,1253.3 C310.2,1250.1 314.8,1246.6 317.7,1241.6 C321.1,1235.5 321.8,1227 323.6,1218.3 C325.8,1207.5 326.3,1190.1 329.4,1181.4 C331.3,1176.2 333.9,1169.7 336.2,1169.7 C338.5,1169.7 341.1,1176.4 343,1181.4 C345.8,1188.8 346.5,1202.4 348.8,1210.5 C350.5,1216.6 351.5,1223.6 354.7,1226.1 C357.2,1228 361.2,1228 364.4,1227.1 C368.3,1226 371.9,1220.4 376,1218.3 C379.7,1216.3 383.9,1214.1 387.7,1214.4 C391.7,1214.7 395.5,1218.3 399.4,1220.3 C403.3,1222.2 407.1,1225.8 411,1226.1 C414.8,1226.4 419.3,1221.7 422.7,1222.2 C425.7,1222.7 428.2,1225.1 430.5,1228 C433.7,1232 435.4,1239.8 438.3,1245.5 C441.2,1251.2 443.8,1259 448,1262.1 C451.3,1264.6 456.3,1264.6 459.6,1265 C461.9,1265.3 463.2,1265.6 465.6,1265 C469.7,1263.9 475.8,1257.1 481.1,1256.2 C486.1,1255.4 491.9,1259 496.7,1259.1 C500.8,1259.1 504.6,1259.1 508.3,1257.2 C513.1,1254.8 517.1,1247.3 521.9,1243.6 C526.2,1240.3 531.2,1235.7 535.5,1235.8 C539.6,1235.9 543.4,1240.5 547.2,1243.6 C551.3,1246.9 554.2,1252.6 558.9,1255.3 C563.8,1258.2 570.3,1258.6 576.4,1260.1 C583.1,1261.8 590.1,1264.1 597.7,1265 C606.2,1266 618.3,1268.1 625,1265 C630.4,1262.5 632.5,1255.3 636.6,1251.4 C640.3,1247.9 644.5,1242.9 648.3,1242.6 C651.6,1242.3 655.2,1245.1 658,1247.5 C661.1,1250.1 662.9,1257.9 665.8,1258.2 C668.7,1258.5 672.3,1251.4 675.5,1249.4 C678.1,1247.8 680.9,1245.9 683.3,1246.5 C686.2,1247.2 688,1253.5 691.1,1255.3 C693.9,1256.9 697.6,1258 700.8,1257.2 C704.7,1256.2 708.3,1250.8 712.4,1247.5 C716.7,1244 721.8,1237.2 726.1,1236.8 C729.5,1236.5 732.7,1239.1 735.8,1241.6 C739.8,1244.8 742.7,1251.6 747.4,1255.3 C752.3,1259.2 758.7,1262.2 764.9,1264 C771.1,1265.8 778.4,1267 784.4,1266 C790,1265.1 795.3,1260.6 799.9,1259.1 C803.4,1258 806.5,1257.3 809.6,1257.2 C812.4,1257.1 815,1259.3 817.5,1258.2 C821.1,1256.5 824.1,1248.4 827.2,1243.6 C830.2,1239 832.6,1231 836,1230 C838.6,1229.2 842.1,1231.3 844.7,1233.9 C848.9,1238.2 850,1253.3 854.4,1257.2 C857.2,1259.7 860.9,1260.5 864.2,1260.1 C868,1259.6 872.4,1256.6 875.8,1253.3 C879.7,1249.5 882,1241 885.5,1237.8 C888,1235.6 890.6,1233.6 893.3,1233.9 C896.5,1234.2 899.8,1239 903,1241.6 C906.3,1244.2 908.7,1247.7 912.8,1249.4 C917.9,1251.5 926.1,1251.5 932.2,1251.4 C937.7,1251.3 943.1,1252 947.7,1249.4 C953.1,1246.3 957.4,1238.5 961.4,1231.9 C965.9,1224.5 969,1214.4 973,1206.7 C976.5,1200 980.1,1188.5 983.7,1188.2 C986.6,1188 990.2,1194.1 992.5,1198.9 C995.8,1205.9 995.9,1218.7 998.3,1228 C1000.5,1236.8 1001.8,1247.1 1006.1,1253.3 C1009.5,1258.3 1014.6,1262.7 1019.7,1264 C1024.9,1265.3 1031.9,1263.8 1037.2,1261.1 C1043.1,1258.1 1047.9,1251 1052.7,1245.5 C1057.6,1240 1062.6,1234.9 1066.3,1228 C1070.7,1219.8 1073,1208.5 1076,1198.9 C1078.8,1189.7 1080.4,1178.3 1083.8,1171.7 C1086.1,1167.3 1089.2,1161.6 1091.6,1161.9 C1094.5,1162.3 1097,1173 1099.4,1179.4 C1102.2,1187 1102.8,1199.9 1107.2,1204.7 C1110.2,1208 1114.7,1210 1118.8,1209.6 C1124.2,1209.1 1131.5,1197.3 1136.3,1197.9 C1140.3,1198.4 1143.2,1204.3 1146,1208.6 C1149.2,1213.5 1151.7,1221.1 1153.8,1226.1 C1155.4,1229.8 1155.6,1233.7 1157.8,1235.8 C1159.7,1237.7 1163.1,1239.6 1165.6,1238.7 C1169.7,1237.3 1173.3,1226.4 1177.2,1220.3 C1181.1,1214.1 1184.8,1202.4 1188.9,1201.8 C1192,1201.4 1195.8,1206.3 1198.6,1210.5 C1202.8,1216.7 1203.8,1229.4 1208.3,1237.8 C1212.8,1246.2 1220.6,1261.1 1225.8,1261.1 C1230.1,1261.1 1234.1,1251.3 1237.5,1245.5 C1241.3,1239.1 1243.2,1226.5 1247.2,1224.2 C1249.5,1222.9 1252.4,1224.1 1255,1225.1 C1258.2,1226.3 1261.4,1232.3 1264.7,1231.9 C1269.1,1231.4 1273.8,1220.8 1278.3,1216.4 C1282.2,1212.6 1287.1,1211.2 1290,1206.7 C1293.6,1201 1294,1191.8 1295.8,1183.3 C1297.9,1173.2 1300.1,1162.3 1301.6,1150 C1303.5,1135.1 1304.1,1115.3 1305.5,1100 C1306.7,1087 1307.2,1071 1309.5,1064 C1310.6,1060.8 1312,1057.5 1313.3,1057.5 C1314.5,1057.5 1316,1060.8 1317,1064 C1319.3,1071 1319.6,1086.5 1321,1100 C1322.8,1117.5 1325.2,1141.7 1326.9,1160 C1328.4,1175.5 1329.1,1188.9 1330.8,1202.8 C1332.4,1216.1 1333.6,1231.4 1336.6,1241.6 C1338.7,1248.8 1340.8,1255.6 1344.4,1259.1 C1347.1,1261.7 1350.8,1263.7 1354.1,1263 C1358.5,1262.1 1363.2,1254.6 1367.7,1249.4 C1373,1243.2 1377.8,1234.1 1383.3,1228 C1388.2,1222.6 1393.6,1214.4 1398.8,1214.4 C1404,1214.4 1409,1224 1414.4,1228 C1419.5,1231.8 1424.9,1234.2 1430,1237.8 C1435.3,1241.6 1439.6,1248.5 1445.5,1250.4 C1451.3,1252.3 1459.5,1247.6 1464.9,1249.4 C1469.7,1251 1472.3,1258.2 1476.6,1259.1 C1480.8,1260 1486.2,1254.5 1490.2,1255.3 C1493.9,1256.1 1496.5,1261.4 1499.9,1263 C1503,1264.4 1506.2,1265.2 1509.6,1265 C1513.4,1264.8 1517.7,1263.2 1521.4,1261.1 C1525.5,1258.8 1529.7,1255.9 1533,1251.4 C1537.4,1245.3 1539.8,1234.2 1542.8,1226.1 C1545.6,1218.7 1547.3,1208.8 1550.5,1204.7 C1552.3,1202.4 1554.4,1200.5 1556.4,1200.8 C1559,1201.2 1561.7,1206.5 1564.2,1210.5 C1567.6,1215.7 1570.2,1224 1573.9,1230 C1577.4,1235.6 1580.3,1241.4 1585.5,1245.5 C1591.5,1250.2 1601,1254.7 1608.9,1255.3 C1616.6,1255.9 1625.9,1248.7 1632.2,1249.4 C1636.9,1249.9 1640.1,1252.9 1643.9,1255.3 C1647.9,1257.8 1651.6,1264 1655.5,1264 C1659.4,1264 1663.7,1259.3 1667.2,1255.3 C1671.7,1250.1 1675,1241.4 1678.8,1233.9 C1682.8,1225.9 1686.5,1216.6 1690.5,1208.6 C1694.3,1201.1 1698.9,1195.4 1702.2,1187.2 C1706.3,1177.3 1708.6,1163.9 1711.9,1152.7 C1715.1,1142 1716.3,1128.5 1721.6,1121.6 C1725.6,1116.4 1732.1,1112.3 1737.2,1111.9 C1741.8,1111.5 1747,1114.5 1750.8,1117.7 C1755,1121.3 1757.6,1127 1760.5,1133.3 C1764.3,1141.7 1765.2,1158.5 1770.2,1164.4 C1773.4,1168.1 1778.2,1168.5 1781.9,1170.2 C1785.3,1171.7 1788.8,1171.4 1791.6,1174.1 C1795.9,1178.4 1798.6,1189.8 1801.3,1197.4 C1803.8,1204.5 1804.5,1211.3 1807.2,1218.3 C1810.2,1226 1814.8,1234.3 1818.8,1241.6 C1822.6,1248.5 1825.4,1257.1 1830.5,1261.1 C1834.8,1264.5 1841.5,1266.4 1846,1266 C1849.7,1265.7 1852.5,1262.7 1855.8,1261.1"/>
<path stroke="#dc7b7b" d="M121.4,1471 C127.2,1471.7 133.7,1472.9 138.9,1473 C143.2,1473.1 147,1473.3 150.5,1472 C154.1,1470.7 156.8,1467.7 160.3,1465.2 C164.5,1462.3 169.7,1455.7 173.9,1455.5 C177.4,1455.4 180.7,1458.8 183.6,1461.3 C186.6,1463.9 187.7,1469.1 191.4,1471 C195.7,1473.2 202.4,1471.9 208.9,1472 C217,1472.1 226.9,1470.9 236.1,1471 C245.6,1471.1 255.5,1472.4 265.2,1472.6 C274.9,1472.8 287,1473.5 294.4,1472 C299.3,1471 302.4,1469.5 306.1,1467.2 C310.2,1464.7 314.6,1461.8 317.7,1457.4 C321.5,1452 323.3,1443.9 325.5,1436 C328,1426.7 328,1411.2 331.3,1404.9 C333.1,1401.4 336,1397.9 338.1,1398.1 C340.5,1398.4 343,1404.4 344.9,1408.8 C347.5,1414.9 348.1,1425.8 350.8,1432.2 C352.9,1437.2 355.2,1443.1 358.6,1444.8 C361.3,1446.1 365.1,1445 368.3,1443.8 C372.2,1442.4 376.3,1437.8 379.9,1436 C382.7,1434.6 385,1432.9 387.7,1433.1 C390.8,1433.3 394,1436.3 397.4,1438 C401.1,1439.9 404.9,1443.6 409.1,1443.8 C413.9,1444 420.4,1437.8 424.6,1438 C427.7,1438.2 430.1,1439.6 432.4,1441.9 C435.6,1445.1 437.2,1452.5 440.2,1457.4 C443.1,1462.2 446.1,1468.5 449.9,1471 C452.8,1472.9 456.3,1472.7 459.6,1473 C462.8,1473.3 465.8,1473.4 469.4,1473 C474,1472.4 479.8,1469.3 485,1469.1 C490.2,1468.9 495.5,1472.4 500.5,1472 C505.3,1471.6 510,1469.6 514.2,1467.2 C518.5,1464.8 521.7,1459.7 525.8,1457.4 C529.5,1455.3 533.7,1453.2 537.5,1453.5 C541.4,1453.8 545.3,1457.1 549.1,1459.4 C553.1,1461.9 555.9,1465.9 560.8,1468.1 C567.4,1471 576.7,1472.1 586.1,1473 C597.6,1474.1 615.6,1475.5 625,1473 C631,1471.4 634,1467.6 638.6,1465.2 C643.1,1462.8 648.1,1458.1 652.2,1458.4 C655.8,1458.7 658.8,1463.2 661.9,1465.2 C664.6,1467 666.8,1470 669.7,1470.1 C673.1,1470.3 677.5,1464.5 681.3,1464.2 C684.6,1463.9 687.5,1466.4 691.1,1467.2 C695.2,1468.1 700.4,1469.8 704.7,1469.1 C708.8,1468.4 712.4,1465.2 716.3,1463.3 C720.2,1461.3 724.2,1457.2 728,1457.4 C732,1457.6 735.5,1463 739.7,1465.2 C744,1467.5 748,1469.6 753.3,1471 C759.9,1472.8 768.8,1474 776.6,1474 C784.4,1474 793.8,1471.7 799.9,1471 C803.8,1470.6 806.8,1470.9 809.6,1470.1 C811.9,1469.5 813.5,1468.9 815.6,1467.2 C819.1,1464.5 823.2,1457.8 827.2,1453.5 C831,1449.4 835.1,1442.1 838.9,1441.9 C842.2,1441.7 845.7,1446.2 848.6,1449.7 C852.3,1454.1 853.8,1464.1 858.3,1467.2 C862,1469.7 867.9,1470.6 871.9,1469.1 C876.5,1467.4 879.5,1459.4 883.6,1455.5 C887.3,1452 891.4,1446.7 895.3,1446.7 C899.2,1446.7 902.4,1453.4 906.9,1455.5 C911.9,1457.8 918.1,1458.7 924.4,1459.4 C931.6,1460.2 941.5,1462.4 947.7,1459.4 C953.8,1456.4 956.8,1447.7 961.4,1441.9 C965.9,1436.1 970.5,1429.5 975,1424.4 C978.9,1420 983,1412.5 986.6,1412.7 C990.1,1412.9 993.8,1419.7 996.3,1424.4 C999.2,1429.8 1000,1437 1002.2,1443.8 C1004.6,1451.2 1005.7,1461.9 1010,1467.2 C1013.4,1471.4 1018.8,1474.2 1023.6,1474.9 C1028.5,1475.6 1034,1473.5 1039.1,1471 C1045.1,1468.1 1051.3,1462.9 1056.6,1457.4 C1062.4,1451.4 1068.3,1443.9 1072.2,1436 C1076.2,1427.8 1076.9,1416.5 1079.9,1408.8 C1082.2,1402.8 1084.8,1396.2 1087.7,1393.3 C1089.5,1391.5 1091.7,1389.8 1093.5,1390.4 C1096.5,1391.4 1098.7,1401.3 1101.3,1406.9 C1103.9,1412.6 1105.4,1421.4 1109.1,1424.4 C1111.8,1426.5 1115.1,1426.8 1118.8,1426.3 C1124.3,1425.6 1133.2,1415.5 1138.3,1416.6 C1142.5,1417.5 1145,1423.7 1148,1428.3 C1151.6,1433.8 1153.8,1442.6 1157.8,1447.7 C1161.1,1451.9 1165.8,1457.9 1169.4,1457.4 C1173.7,1456.8 1177.1,1446 1181.1,1439.9 C1185.5,1433.4 1190.5,1419.6 1194.7,1419.5 C1198.1,1419.4 1201.5,1427 1204.4,1432.2 C1208.2,1439 1209.8,1450.6 1214.2,1457.4 C1217.9,1463.1 1223.5,1471.2 1227.8,1471 C1231.9,1470.8 1235.9,1462.2 1239.4,1457.4 C1243,1452.5 1244.7,1443.7 1249.1,1441.9 C1253.3,1440.2 1260.2,1447.2 1264.7,1445.8 C1269.4,1444.3 1272.3,1436.9 1276.4,1432.2 C1280.8,1427.2 1286.6,1423.3 1290,1416.6 C1294.4,1408 1295.6,1396.2 1297.7,1383.6 C1300.5,1367 1301.5,1343.4 1303.6,1325.2 C1305.4,1309.3 1306.9,1291.2 1309.4,1280.5 C1310.8,1274.2 1312.6,1266.1 1314.3,1266 C1315.8,1265.9 1317.7,1271.6 1319.1,1276.6 C1322,1286.8 1323.2,1307.6 1325,1325.2 C1327.1,1346 1328.7,1372.5 1330.8,1393.3 C1332.6,1410.9 1333.6,1429.1 1336.6,1441.9 C1338.7,1450.6 1340.6,1457.9 1344.4,1463.3 C1347.5,1467.7 1352,1472.9 1356.1,1473 C1360.4,1473.2 1365.4,1467.2 1369.7,1463.3 C1374.5,1458.9 1379.1,1453.2 1383.3,1447.7 C1387.5,1442.2 1391,1433.7 1395,1430.2 C1397.5,1427.9 1399.7,1426.2 1402.7,1426.3 C1407,1426.5 1413.3,1432.2 1418.3,1436 C1423.6,1440 1429,1444.6 1433.8,1449.7 C1438.7,1455 1441.8,1464.1 1447.4,1467.2 C1452.4,1470 1459.2,1468.4 1464.9,1469.1 C1470.3,1469.7 1475.7,1471.5 1480.5,1471 C1484.7,1470.6 1487.8,1467.3 1492.1,1467.2 C1497.3,1467.1 1504.6,1471.6 1509.6,1472 C1513.3,1472.3 1515.9,1471.7 1519.4,1471 C1523.6,1470.2 1529.3,1470.3 1533,1467.2 C1537.7,1463.2 1539.9,1453.2 1542.8,1445.8 C1545.8,1438.3 1547,1427.3 1550.5,1422.4 C1552.7,1419.3 1555.7,1416.6 1558.3,1416.6 C1560.9,1416.6 1563.7,1419.5 1566.1,1422.4 C1569.7,1426.7 1572.3,1435.5 1575.8,1441.9 C1579.4,1448.4 1581.9,1457.1 1587.5,1461.3 C1593,1465.5 1601.6,1466.8 1608.9,1467.2 C1616.5,1467.6 1625.8,1462.8 1632.2,1463.3 C1636.8,1463.7 1639.8,1465.5 1643.9,1467.2 C1648.8,1469.2 1654.6,1474.9 1659.4,1474.9 C1663.6,1474.9 1667.6,1472.7 1671.1,1469.1 C1676.6,1463.5 1680.2,1448.8 1684.7,1439.9 C1688.6,1432.1 1692,1424.3 1696.3,1418.5 C1699.9,1413.7 1704.7,1412.1 1708,1406.9 C1712.4,1399.7 1713.9,1385.7 1717.7,1377.7 C1720.6,1371.5 1723.6,1366.5 1727.4,1362.2 C1730.8,1358.3 1734.9,1354.6 1739.1,1352.5 C1742.8,1350.6 1747.2,1349.1 1750.8,1349.5 C1754.3,1349.9 1757.5,1351.6 1760.5,1354.4 C1764.9,1358.4 1768,1369 1772.2,1373.8 C1775.3,1377.3 1778.3,1380.3 1781.9,1381.6 C1785.4,1382.8 1790.1,1380 1793.5,1381.6 C1797.4,1383.4 1800.3,1388.2 1803.3,1393.3 C1807.6,1400.6 1810.9,1413.1 1814.9,1422.4 C1818.7,1431.2 1822.5,1439.9 1826.6,1447.7 C1830.3,1454.7 1833,1463 1838.3,1467.2 C1843,1471 1850,1471.1 1855.8,1473"/>
</g>
<g fill="none" stroke-width="6.4" stroke-dasharray="6.4 6.5">
<path stroke="#000060" d="M185.5,445 L185.5,1456"/>
<path stroke="#ff0000" d="M294.4,491 L294.4,1472"/>
<path stroke="#003c00" d="M336.2,697 L336.2,1474"/>
<path stroke="#0022ff" d="M502.9,472 L502.9,1479"/>
<path stroke="#1a000d" d="M688.6,347 L688.6,1482"/>
<path stroke="#000060" d="M733.8,408 L733.8,1480"/>
<path stroke="#ff0000" d="M836,478 L836,1473"/>
<path stroke="#003c00" d="M993,515 L993,1484"/>
<path stroke="#0022ff" d="M1089.1,665 L1089.1,1480"/>
<path stroke="#2b0a6e" d="M1121.3,500 L1121.3,1480"/>
<path stroke="#000000" d="M1194.7,664 L1194.7,1480"/>
<path stroke="#ff0000" stroke-width="4.5" d="M1326,515 L1322.8,1470"/>
<path stroke="#008a00" d="M1560.3,680 L1560.3,1480"/>
<path stroke="#0a8ae6" d="M1695,528 L1695,1478"/>
<path stroke="#4b0a8c" stroke-width="5.2" d="M1746.6,517 L1749.4,1478"/>
</g>
<g fill="none" stroke="#0648b0" stroke-width="6" stroke-linejoin="miter" stroke-linecap="butt">
<path d="M599,306.5 L602,233 L823.4,233 L826.4,306.5"/>
<path d="M800.4,429.3 L803.4,358.8 L1044.4,358.8 L1047.4,429.3"/>
<path d="M1063.3,460.6 L1066.3,380.8 L1268.4,380.8 L1271.4,460.6"/>
</g>
<g fill="none" stroke="#e8ddd5" stroke-width="8" stroke-linejoin="round" transform="translate(2.5,3.5)" opacity="0.8">
<path d="M354.7,567.7 L425.8,321.5"/><path d="M400,348.5 L425.8,321.5 L435.8,360"/>
<path d="M1552.5,598.3 L1580,434.5"/><path d="M1556.5,467 L1580,434.5 L1593.5,472.5"/>
</g>
<g fill="none" stroke="#1f72bf" stroke-width="8" stroke-linejoin="round">
<path d="M354.7,567.7 L425.8,321.5"/><path d="M400,348.5 L425.8,321.5 L435.8,360"/>
<path d="M1552.5,598.3 L1580,434.5"/><path d="M1556.5,467 L1580,434.5 L1593.5,472.5"/>
</g>
<g stroke="#000" stroke-width="1.3">
<text transform="translate(164.1,406.8) scale(0.930,1)" font-size="45.9" font-weight="normal" fill="#000">730</text>
<text transform="translate(277.3,412.3) scale(0.939,1)" font-size="44.3" font-weight="normal" fill="#000">796</text>
<text transform="translate(471.6,415.8) scale(0.959,1)" font-size="44.1" font-weight="normal" fill="#000">909</text>
<text transform="translate(332.4,635.2) scale(0.901,1)" font-size="45.7" font-weight="normal" fill="#000">815</text>
<text transform="translate(612,300) scale(0.889,1)" font-size="44.6" font-weight="normal" fill="#000">1003</text>
<text transform="translate(713.9,294.1) scale(0.899,1)" font-size="45.9" font-weight="normal" fill="#000">1032</text>
<text transform="translate(801.3,429.2) scale(0.877,1)" font-size="45.7" font-weight="normal" fill="#000">1085</text>
<text transform="translate(948.4,470.5) scale(0.893,1)" font-size="45" font-weight="normal" fill="#000">1181</text>
<text transform="translate(1032.2,599.3) scale(0.892,1)" font-size="44.4" font-weight="normal" fill="#000">1235</text>
<text transform="translate(1103.9,432.3) scale(0.924,1)" font-size="44.4" font-weight="normal" fill="#000">1256</text>
<text transform="translate(1182,583.7) scale(0.874,1)" font-size="45.9" font-weight="normal" fill="#000">1288</text>
<text transform="translate(1304.5,454.4) scale(0.901,1)" font-size="44.4" font-weight="normal" fill="#000">1355</text>
<text transform="translate(1528.1,638.1) scale(0.912,1)" font-size="44.4" font-weight="normal" fill="#000">1485</text>
<text transform="translate(1654.6,468) scale(0.877,1)" font-size="44.3" font-weight="normal" fill="#000">1567</text>
<text transform="translate(1742.1,458.3) scale(0.841,1)" font-size="45.9" font-weight="normal" fill="#000">1600</text>
<text stroke="none" transform="translate(186.5,367.7) scale(1.44,1.6)" font-size="43.2" style="font-family:'DejaVu Sans',sans-serif">*</text>
<text transform="translate(80.3,1540.5) scale(1.018,1)" font-size="43.6" font-weight="normal" fill="#000">690</text>
<text transform="translate(264.4,1540.5)" font-size="43.6" font-weight="normal" fill="#000">790</text>
<text transform="translate(444.8,1540.5) scale(0.972,1)" font-size="43.6" font-weight="normal" fill="#000">890</text>
<text transform="translate(626.4,1540.5) scale(0.985,1)" font-size="43.6" font-weight="normal" fill="#000">990</text>
<text transform="translate(792.2,1540.5) scale(0.977,1)" font-size="43.6" font-weight="normal" fill="#000">1090</text>
<text transform="translate(974.7,1540.5) scale(1.013,1)" font-size="43.6" font-weight="normal" fill="#000">1190</text>
<text transform="translate(1154.9,1540.5) scale(0.971,1)" font-size="43.6" font-weight="normal" fill="#000">1290</text>
<text transform="translate(1337.6,1540.5) scale(0.978,1)" font-size="43.6" font-weight="normal" fill="#000">1390</text>
<text transform="translate(1517.7,1540.5) scale(0.967,1)" font-size="43.6" font-weight="normal" fill="#000">1490</text>
<text transform="translate(1699.9,1540.5) scale(0.978,1)" font-size="43.6" font-weight="normal" fill="#000">1590</text>
<g stroke-width="9.5" stroke-linecap="round">
<path stroke="#0e579b" d="M1863,231.8 H1946"/>
<path stroke="#ac1c18" d="M1863,299.3 H1946"/>
<path stroke="#5e9624" d="M1863,369.8 H1946"/>
<path stroke="#582f78" d="M1863,437.6 H1946"/>
<path stroke="#0b87a5" d="M1863,508.2 H1946"/>
<path stroke="#ec6814" d="M1863,575.7 H1946"/>
<path stroke="#6b93c6" d="M1863,643.5 H1946"/>
<path stroke="#dc7b7b" d="M1863,713 H1946"/>
</g>
<text x="1957" y="246.3" font-size="45">4 h</text>
<text x="1957" y="313.8" font-size="45">8 h</text>
<text x="1957" y="384.3" font-size="45">12 h</text>
<text x="1957" y="452.1" font-size="45">24 h</text>
<text x="1957" y="522.7" font-size="45">48 h</text>
<text x="1957" y="590.2" font-size="45">72 h</text>
<text x="1957" y="658" font-size="45">96 h</text>
<text x="1957" y="727.5" font-size="45">120 h</text>
</g>
<text transform="translate(75.7,1084) rotate(-90)" font-size="54" font-weight="bold" textLength="398" lengthAdjust="spacingAndGlyphs">Raman Intensity</text>
<text transform="translate(758,1612.4) scale(0.971,1)" font-size="53.2" font-weight="bold" fill="#000">Raman Shift (cm</text>
<text transform="translate(1162.1,1596.3) scale(0.957,1)" font-size="36.1" font-weight="bold" fill="#000">-1</text>
<text transform="translate(1195.3,1612.4) scale(0.974,1)" font-size="53" font-weight="bold" fill="#000">)</text>
<text transform="translate(313.3,327.6) rotate(-43)" font-size="36.7" font-weight="bold" fill="#000" stroke="#fff" stroke-width="0.4">DNA/RNA</text>
<text transform="translate(417.3,286.6) rotate(-43)" font-size="38.5" font-weight="bold" fill="#000" stroke="#fff" stroke-width="0.4">Tyrosine</text>
<text transform="translate(493.3,311.5) rotate(-43)" font-size="37.7" font-weight="bold" fill="#000" stroke="#fff" stroke-width="0.4">Alginate</text>
<text transform="translate(696.3,211.5) rotate(-43)" font-size="37.4" font-weight="bold" fill="#000" stroke="#fff" stroke-width="0.4">Phenylalanine</text>
<text transform="translate(883.2,334.4) rotate(-44)" font-size="37.2" font-weight="bold" fill="#000" stroke="#fff" stroke-width="0.4">Pyocyanin</text>
<text transform="translate(1163.8,343.4) rotate(-44)" font-size="38.6" font-weight="bold" fill="#000" stroke="#fff" stroke-width="0.4">Amide III</text>
<text transform="translate(1362,376.2) rotate(-44)" font-size="37.2" font-weight="bold" fill="#000" stroke="#fff" stroke-width="0.4">Pyocyanin</text>
<text transform="translate(1559.9,394.8) rotate(-43)" font-size="37.1" font-weight="bold" fill="#000" stroke="#fff" stroke-width="0.4">Adenine</text>
<text transform="translate(1656.6,412) rotate(-44)" font-size="37.5" font-weight="bold" fill="#000" stroke="#fff" stroke-width="0.4">Peptidoglycan</text>
<text transform="translate(1755.1,413.5) rotate(-44)" font-size="39.3" font-weight="bold" fill="#000" stroke="#fff" stroke-width="0.4">Amide I</text>
</svg></body></html>
